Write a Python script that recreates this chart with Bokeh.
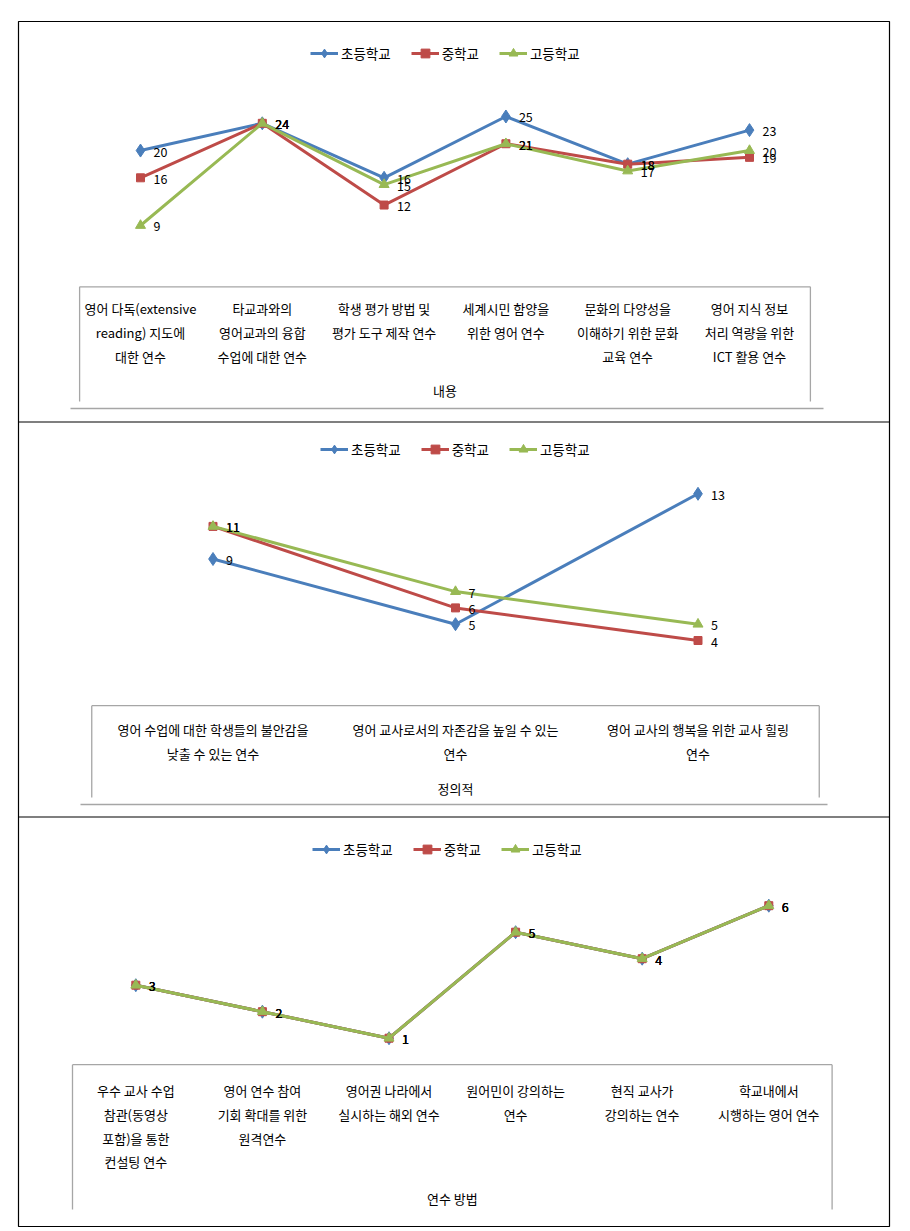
from bokeh.plotting import figure
from bokeh.models import Range1d, Span, Legend, LegendItem, ColumnDataSource
from bokeh.core.properties import value
from bokeh.embed import file_html
from bokeh.resources import INLINE

# ---------------- data ----------------
series_names = ["초등학교", "중학교", "고등학교"]

content_categories = [
    "영어 다독(extensive\nreading) 지도에\n대한 연수",
    "타교과와의\n영어교과의 융합\n수업에 대한 연수",
    "학생 평가 방법 및\n평가 도구 제작 연수",
    "세계시민 함양을\n위한 영어 연수",
    "문화의 다양성을\n이해하기 위한 문화\n교육 연수",
    "영어 지식 정보\n처리 역량을 위한\nICT 활용 연수",
]
content_elem = [20, 24, 16, 25, 18, 23]
content_middle = [16, 24, 12, 21, 18, 19]
content_high = [9, 24, 15, 21, 17, 20]
content_title = "내용"

affective_categories = [
    "영어 수업에 대한 학생들의 불안감을\n낮출 수 있는 연수",
    "영어 교사로서의 자존감을 높일 수 있는\n연수",
    "영어 교사의 행복을 위한 교사 힐링\n연수",
]
affective_elem = [9, 5, 13]
affective_middle = [11, 6, 4]
affective_high = [11, 7, 5]
affective_title = "정의적"

method_categories = [
    "우수 교사 수업\n참관(동영상\n포함)을 통한\n컨설팅 연수",
    "영어 연수 참여\n기회 확대를 위한\n원격연수",
    "영어권 나라에서\n실시하는 해외 연수",
    "원어민이 강의하는\n연수",
    "현직 교사가\n강의하는 연수",
    "학교내에서\n시행하는 영어 연수",
]
method_elem = [3, 2, 1, 5, 4, 6]
method_middle = [3, 2, 1, 5, 4, 6]
method_high = [3, 2, 1, 5, 4, 6]
method_title = "연수 방법"

# ---------------- style / layout ----------------
FONT = "Noto Sans CJK KR"
COLORS = ["#4A7EBB", "#BE4B48", "#98B954"]
MARKERS = ["diamond", "square", "triangle"]
MSIZES = [13, 8, 10]
BOX_COLOR = "#A6A6A6"

FL, FR, FT, FB = 18, 889, 21, 1226   # frame in page pixels
ML, MT = 18, 21                      # figure borders

panels = [
    dict(name="top", cats=content_categories, series=[content_elem, content_middle, content_high],
         title=content_title, x0=140.0, dx=121.8, zero=286.3, k=6.8125,
         box_bottom=401, bline=408, bline_x=(70, 823), first=22, title_off=104,
         leg_x=310, leg_y=53, divider=421.5),
    dict(name="mid", cats=affective_categories, series=[affective_elem, affective_middle, affective_high],
         title=affective_title, x0=212.5, dx=242.5, zero=705.2, k=16.3,
         box_bottom=797, bline=804, bline_x=(80, 827), first=24, title_off=82.5,
         leg_x=320, leg_y=449, divider=816.5),
    dict(name="bot", cats=method_categories, series=[method_elem, method_middle, method_high],
         title=method_title, x0=135.3, dx=126.6, zero=1064.2, k=26.5,
         box_bottom=1209, bline=None, bline_x=None, first=26, title_off=134,
         leg_x=312, leg_y=849, divider=None),
]

def xr(pn):
    return Range1d((FL - pn["x0"]) / pn["dx"], (FR - pn["x0"]) / pn["dx"])

def yr(pn):
    return Range1d((pn["zero"] - FB) / pn["k"], (pn["zero"] - FT) / pn["k"])

def px2y(pn, py):
    return (pn["zero"] - py) / pn["k"]

def px2x(pn, px):
    return (px - pn["x0"]) / pn["dx"]

p = figure(width=ML + (FR - FL) + 4, height=MT + (FB - FT) + 3,
           x_range=xr(panels[0]), y_range=yr(panels[0]),
           x_axis_location=None, y_axis_location=None,
           toolbar_location=None, output_backend="svg",
           min_border_left=ML, min_border_right=4, min_border_top=MT, min_border_bottom=3)
for pn in panels[1:]:
    p.extra_x_ranges[pn["name"]] = xr(pn)
    p.extra_y_ranges[pn["name"]] = yr(pn)
p.xgrid.visible = False
p.ygrid.visible = False
p.outline_line_color = "black"
p.outline_line_width = 1.2
p.background_fill_color = "white"
p.border_fill_color = "white"

LEG_H = 22

for pn in panels:
    rn = dict(x_range_name="default" if pn["name"] == "top" else pn["name"],
              y_range_name="default" if pn["name"] == "top" else pn["name"])
    n = len(pn["cats"])
    xs = list(range(n))

    # category axis box
    yb = px2y(pn, pn["box_bottom"])
    p.segment(x0=[-0.5, -0.5, n - 0.5], y0=[0, 0, 0], x1=[n - 0.5, -0.5, n - 0.5], y1=[0, yb, yb],
              line_color=BOX_COLOR, line_width=1.3, **rn)
    if pn["bline"] is not None:
        ybl = px2y(pn, pn["bline"])
        p.segment(x0=[px2x(pn, pn["bline_x"][0])], y0=[ybl], x1=[px2x(pn, pn["bline_x"][1])], y1=[ybl],
                  line_color=BOX_COLOR, line_width=1.3, **rn)

    # category labels (split into lines)
    lx, ly, lt, lo = [], [], [], []
    for i, c in enumerate(pn["cats"]):
        for j, line in enumerate(c.split("\n")):
            lx.append(i); ly.append(0); lt.append(line); lo.append(pn["first"] + 23.7 * j)
    p.text(x="x", y="y", text="t", y_offset="o",
           source=ColumnDataSource(dict(x=lx, y=ly, t=lt, o=lo)),
           text_font=value(FONT), text_font_size="13px", text_color="#000000",
           text_align="center", text_baseline="middle", **rn)
    p.text(x=[(n - 1) / 2], y=[0], text=[pn["title"]], y_offset=pn["title_off"],
           text_font=value(FONT), text_font_size="13px", text_color="#000000",
           text_align="center", text_baseline="middle", **rn)

    # series
    items = []
    for s, vals in enumerate(pn["series"]):
        src = ColumnDataSource(dict(x=xs, y=vals, lab=[str(v) for v in vals]))
        lr = p.line(x="x", y="y", source=src, line_color=COLORS[s], line_width=3, **rn)
        sr = p.scatter(x="x", y="y", source=src, marker=MARKERS[s], size=MSIZES[s],
                       fill_color=COLORS[s], line_color=COLORS[s], **rn)
        items.append(LegendItem(label=series_names[s], renderers=[lr, sr]))
    for s, vals in enumerate(pn["series"]):
        src = ColumnDataSource(dict(x=xs, y=vals, lab=[str(v) for v in vals]))
        p.text(x="x", y="y", text="lab", source=src, x_offset=13, y_offset=1,
               text_font=value(FONT), text_font_size="12.5px", text_color="#000000",
               text_align="left", text_baseline="middle", **rn)

    leg = Legend(items=items, orientation="horizontal",
                 location=(pn["leg_x"] - FL, FB - pn["leg_y"] - LEG_H / 2),
                 glyph_width=28, glyph_height=LEG_H, label_height=LEG_H, label_standoff=3,
                 spacing=20, padding=0, margin=0,
                 border_line_alpha=0, background_fill_alpha=0,
                 label_text_font=FONT, label_text_font_size="13.5px", label_text_color="#000000")
    p.add_layout(leg, "center")

    if pn["divider"] is not None:
        p.add_layout(Span(location=px2y(pn, pn["divider"]), dimension="width",
                          line_color="black", line_width=1.2, **rn))

open("out.html", "w").write(file_html(p, INLINE))
